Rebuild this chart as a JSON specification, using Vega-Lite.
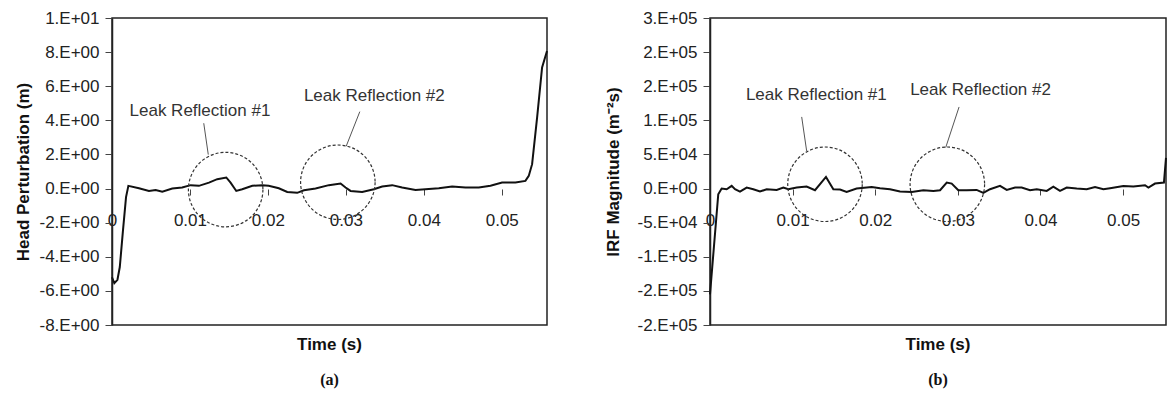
{
  "$schema": "https://vega.github.io/schema/vega-lite/v6.json",
  "padding": {"left": 14, "top": 8, "right": 0, "bottom": 0},
  "background": "white",
  "spacing": 52,
  "config": {
    "view": {"stroke": "#222", "strokeWidth": 1.5},
    "font": "Liberation Sans",
    "axis": {"labelFont": "Liberation Sans", "labelFontSize": 17, "labelColor": "#222", "labelOverlap": false, "titleFont": "Liberation Sans", "titleFontSize": 17, "titleFontWeight": "bold", "titleColor": "#111", "grid": false, "domainColor": "#222", "domainWidth": 1.5, "tickColor": "#444"}
  },
  "datasets": {
    "head": [
      {"t": 0, "h": -5.2}, {"t": 0.0003, "h": -5.55}, {"t": 0.0007, "h": -5.35}, {"t": 0.001, "h": -4.6}, {"t": 0.0014, "h": -2.5}, {"t": 0.0018, "h": -0.5}, {"t": 0.0021, "h": 0.16},
      {"t": 0.00346, "h": 0.02}, {"t": 0.00474, "h": -0.14}, {"t": 0.0056, "h": -0.08}, {"t": 0.00645, "h": -0.18}, {"t": 0.00773, "h": 0}, {"t": 0.009, "h": 0.06},
      {"t": 0.01009, "h": 0.2}, {"t": 0.01115, "h": 0.16}, {"t": 0.01244, "h": 0.35}, {"t": 0.0135, "h": 0.55}, {"t": 0.01466, "h": 0.65}, {"t": 0.01521, "h": 0.35},
      {"t": 0.01594, "h": -0.14}, {"t": 0.0167, "h": -0.04}, {"t": 0.018, "h": 0.16}, {"t": 0.01927, "h": 0.2}, {"t": 0.0201, "h": 0.16}, {"t": 0.0214, "h": 0.02},
      {"t": 0.02248, "h": -0.2}, {"t": 0.02376, "h": -0.25}, {"t": 0.02462, "h": -0.1}, {"t": 0.02611, "h": 0}, {"t": 0.02782, "h": 0.2}, {"t": 0.02932, "h": 0.3},
      {"t": 0.02996, "h": 0.06}, {"t": 0.0306, "h": -0.14}, {"t": 0.03209, "h": -0.2}, {"t": 0.03359, "h": -0.04}, {"t": 0.03466, "h": 0.12}, {"t": 0.03594, "h": 0.2},
      {"t": 0.03722, "h": 0.06}, {"t": 0.03893, "h": -0.08}, {"t": 0.04021, "h": -0.04}, {"t": 0.04192, "h": 0.02}, {"t": 0.04363, "h": 0.12}, {"t": 0.04534, "h": 0.06},
      {"t": 0.04705, "h": 0.06}, {"t": 0.04855, "h": 0.16}, {"t": 0.05004, "h": 0.35}, {"t": 0.05175, "h": 0.35}, {"t": 0.05303, "h": 0.45}, {"t": 0.05346, "h": 0.74},
      {"t": 0.05389, "h": 1.43}, {"t": 0.05453, "h": 4.16}, {"t": 0.05517, "h": 7.1}, {"t": 0.0558, "h": 8.07}
    ],
    "irf": [
      {"t": 0, "m": -155000}, {"t": 0.001, "m": -8300}, {"t": 0.00141, "m": 0}, {"t": 0.00202, "m": -1000}, {"t": 0.00262, "m": 3900}, {"t": 0.00303, "m": -1000},
      {"t": 0.00363, "m": -4400}, {"t": 0.00444, "m": 1500}, {"t": 0.00524, "m": -1000}, {"t": 0.00605, "m": -4400}, {"t": 0.00686, "m": -1000}, {"t": 0.00807, "m": -2000},
      {"t": 0.00888, "m": 1500}, {"t": 0.00948, "m": -1000}, {"t": 0.0105, "m": 1500}, {"t": 0.0117, "m": 2900}, {"t": 0.01271, "m": -2400}, {"t": 0.01404, "m": 17000},
      {"t": 0.01493, "m": -1000}, {"t": 0.01574, "m": -1500}, {"t": 0.01654, "m": -4900}, {"t": 0.01775, "m": 0}, {"t": 0.01957, "m": 2400}, {"t": 0.02058, "m": 500},
      {"t": 0.02179, "m": -1000}, {"t": 0.023, "m": -4400}, {"t": 0.02442, "m": -4900}, {"t": 0.02583, "m": -2400}, {"t": 0.02704, "m": -3400}, {"t": 0.02785, "m": -2400},
      {"t": 0.02866, "m": 8800}, {"t": 0.02926, "m": 7300}, {"t": 0.03006, "m": -2400}, {"t": 0.03107, "m": -2400}, {"t": 0.03228, "m": -2000}, {"t": 0.03309, "m": -6400},
      {"t": 0.0339, "m": -1000}, {"t": 0.03511, "m": 3900}, {"t": 0.03592, "m": -2000}, {"t": 0.03693, "m": 1500}, {"t": 0.03773, "m": 1500}, {"t": 0.03874, "m": -2400},
      {"t": 0.03955, "m": -1000}, {"t": 0.04076, "m": -3400}, {"t": 0.04156, "m": 2900}, {"t": 0.04237, "m": -3400}, {"t": 0.04318, "m": 1500}, {"t": 0.04439, "m": 0},
      {"t": 0.0456, "m": -1000}, {"t": 0.04661, "m": 2400}, {"t": 0.04762, "m": -1000}, {"t": 0.04843, "m": 500}, {"t": 0.05004, "m": 3900}, {"t": 0.05125, "m": 2900},
      {"t": 0.05266, "m": 4900}, {"t": 0.05307, "m": 1500}, {"t": 0.05387, "m": 7300}, {"t": 0.05495, "m": 8800}, {"t": 0.0552, "m": 45000}
    ],
    "circA": [{"x": 0.01458, "y": -0.06}, {"x": 0.02897, "y": 0.37}],
    "leadA": [{"x": 0.01177, "y": 3.83, "x2": 0.01235, "y2": 1.99}, {"x": 0.03179, "y": 4.51, "x2": 0.03004, "y2": 2.48}],
    "textA": [{"x": 0.01128, "y": 4.57, "label": "Leak Reflection #1"}, {"x": 0.03365, "y": 5.45, "label": "Leak Reflection #2"}],
    "circB": [{"x": 0.01392, "y": 6300}, {"x": 0.02873, "y": 6300}],
    "leadB": [{"x": 0.0111, "y": 105000, "x2": 0.0117, "y2": 55100}, {"x": 0.03015, "y": 119600, "x2": 0.02853, "y2": 60000}],
    "textB": [{"x": 0.01287, "y": 136500, "label": "Leak Reflection #1"}, {"x": 0.03275, "y": 144500, "label": "Leak Reflection #2"}]
  },
  "hconcat": [
    {
      "width": 435,
      "height": 307,
      "title": {"text": "Time (s)", "subtitle": "(a)", "orient": "bottom", "anchor": "middle", "font": "Liberation Sans", "fontSize": 17, "fontWeight": "bold", "color": "#111", "subtitleFont": "Liberation Serif", "subtitleFontSize": 16, "subtitleFontWeight": "bold", "subtitleColor": "#111", "offset": 4, "subtitlePadding": 18},
      "layer": [
        {
          "mark": {"type": "rule", "color": "#888", "strokeWidth": 1},
          "encoding": {"y": {"datum": 0, "type": "quantitative"}}
        },
        {
          "data": {"name": "head"},
          "mark": {"type": "line", "color": "#111", "strokeWidth": 2},
          "encoding": {
            "x": {"field": "t", "type": "quantitative", "scale": {"domain": [0, 0.0558], "nice": false, "zero": false},
                  "axis": {"values": [0, 0.01, 0.02, 0.03, 0.04, 0.05], "tickCount": 30, "format": "~g", "offset": -136, "domain": false, "tickSize": 6, "labelPadding": 17, "title": null, "labelFlush": false, "labelOverlap": false}},
            "y": {"field": "h", "type": "quantitative", "scale": {"domain": [-8, 10], "nice": false, "zero": false},
                  "axis": {"values": [-8, -6, -4, -2, 0, 2, 4, 6, 8, 10], "tickCount": 30, "labelOverlap": false, "title": "Head Perturbation (m)", "tickSize": 7, "labelPadding": 6, "titlePadding": 6,
                           "labelExpr": "datum.value == 0 ? '0.E+00' : (datum.value < 0 ? '-' : '') + round(abs(datum.value) / pow(10, floor(log(abs(datum.value)) / LN10 + 1e-9))) + '.E' + (floor(log(abs(datum.value)) / LN10 + 1e-9) < 0 ? '-' : '+') + pad(toString(abs(floor(log(abs(datum.value)) / LN10 + 1e-9))), 2, '0', 'left')"}}
          }
        },
        {
          "data": {"name": "circA"},
          "mark": {"type": "point", "shape": "circle", "filled": false, "size": 5550, "stroke": "#333", "strokeWidth": 1.2, "strokeDash": [3, 2], "opacity": 1},
          "encoding": {"x": {"field": "x", "type": "quantitative"}, "y": {"field": "y", "type": "quantitative"}}
        },
        {
          "data": {"name": "leadA"},
          "mark": {"type": "rule", "color": "#555", "strokeWidth": 1},
          "encoding": {"x": {"field": "x", "type": "quantitative"}, "y": {"field": "y", "type": "quantitative"}, "x2": {"field": "x2"}, "y2": {"field": "y2"}}
        },
        {
          "data": {"name": "textA"},
          "mark": {"type": "text", "font": "Liberation Sans", "fontSize": 17, "color": "#333", "align": "center", "baseline": "middle"},
          "encoding": {"x": {"field": "x", "type": "quantitative"}, "y": {"field": "y", "type": "quantitative"}, "text": {"field": "label"}}
        }
      ]
    },
    {
      "width": 456,
      "height": 307,
      "title": {"text": "Time (s)", "subtitle": "(b)", "orient": "bottom", "anchor": "middle", "font": "Liberation Sans", "fontSize": 17, "fontWeight": "bold", "color": "#111", "subtitleFont": "Liberation Serif", "subtitleFontSize": 16, "subtitleFontWeight": "bold", "subtitleColor": "#111", "offset": 4, "subtitlePadding": 18},
      "layer": [
        {
          "mark": {"type": "rule", "color": "#888", "strokeWidth": 1},
          "encoding": {"y": {"datum": 0, "type": "quantitative"}}
        },
        {
          "data": {"name": "irf"},
          "mark": {"type": "line", "color": "#111", "strokeWidth": 2},
          "encoding": {
            "x": {"field": "t", "type": "quantitative", "scale": {"domain": [0, 0.0552], "nice": false, "zero": false},
                  "axis": {"values": [0, 0.01, 0.02, 0.03, 0.04, 0.05], "tickCount": 30, "format": "~g", "offset": -136, "domain": false, "tickSize": 6, "labelPadding": 17, "title": null, "labelFlush": false, "labelOverlap": false}},
            "y": {"field": "m", "type": "quantitative", "scale": {"domain": [-200000, 250000], "nice": false, "zero": false},
                  "axis": {"values": [-200000, -150000, -100000, -50000, 0, 50000, 100000, 150000, 200000, 250000], "tickCount": 30, "labelOverlap": false, "title": "IRF Magnitude  (m⁻²s)", "tickSize": 7, "labelPadding": 6, "titlePadding": 14,
                           "labelExpr": "datum.value == 0 ? '0.E+00' : (datum.value < 0 ? '-' : '') + round(abs(datum.value) / pow(10, floor(log(abs(datum.value)) / LN10 + 1e-9))) + '.E' + (floor(log(abs(datum.value)) / LN10 + 1e-9) < 0 ? '-' : '+') + pad(toString(abs(floor(log(abs(datum.value)) / LN10 + 1e-9))), 2, '0', 'left')"}}
          }
        },
        {
          "data": {"name": "circB"},
          "mark": {"type": "point", "shape": "circle", "filled": false, "size": 5550, "stroke": "#333", "strokeWidth": 1.2, "strokeDash": [3, 2], "opacity": 1},
          "encoding": {"x": {"field": "x", "type": "quantitative"}, "y": {"field": "y", "type": "quantitative"}}
        },
        {
          "data": {"name": "leadB"},
          "mark": {"type": "rule", "color": "#555", "strokeWidth": 1},
          "encoding": {"x": {"field": "x", "type": "quantitative"}, "y": {"field": "y", "type": "quantitative"}, "x2": {"field": "x2"}, "y2": {"field": "y2"}}
        },
        {
          "data": {"name": "textB"},
          "mark": {"type": "text", "font": "Liberation Sans", "fontSize": 17, "color": "#333", "align": "center", "baseline": "middle"},
          "encoding": {"x": {"field": "x", "type": "quantitative"}, "y": {"field": "y", "type": "quantitative"}, "text": {"field": "label"}}
        }
      ]
    }
  ]
}
